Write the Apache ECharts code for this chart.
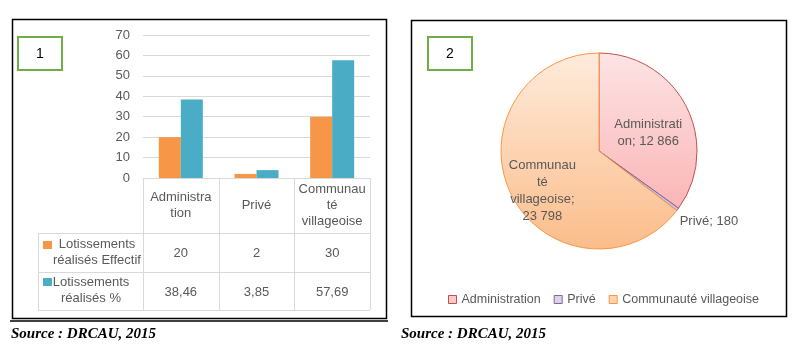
<!DOCTYPE html>
<html>
<head>
<meta charset="utf-8">
<script src="https://cdn.jsdelivr.net/npm/echarts@6/dist/echarts.min.js"></script>
<style>html,body{margin:0;padding:0;background:#fff}#c{width:799px;height:349px}</style>
</head>
<body>
<div id="c"></div>
<script>
// ---- data ----
const barCategories = ['Administra\ntion', 'Privé', 'Communau\nté\nvillageoise'];
const effectifName = 'Lotissements\nréalisés Effectif';
const pctName = 'Lotissements\nréalisés %';
const effectifValues = [20, 2, 30];
const pctValues = [38.46, 3.85, 57.69];
const pctLabels = ['38,46', '3,85', '57,69'];
const yTicks = [0, 10, 20, 30, 40, 50, 60, 70];
const pieNames = ['Administration', 'Privé', 'Communauté villageoise'];
const pieLabelNames = ['Administrati\non', 'Privé', 'Communau\nté\nvillageoise'];
const pieLabelSeps = ['; ', '; ', ';\n'];
const pieValues = [12866, 180, 23798];
const sourceText = 'Source : DRCAU, 2015';

// ---- layout ----
const FONT = 'Liberation Sans';
const TXT = '#595959';
const GRID = { left: 143, top: 35, right: 429, bottom: 171 };
const gx0 = GRID.left, gx1 = 799 - GRID.right, gy1 = 349 - GRID.bottom;
const colW = (gx1 - gx0) / barCategories.length;
const tabLeft = 38, rowH = 233, row1 = 272, row2 = 310;
const lineC = '#D9D9D9';

function fmt(v) { return String(v).replace(/\B(?=(\d{3})+(?!\d))/g, ' '); }

const g = [];
function line(x1, y1, x2, y2, c, w) {
  g.push({ type: 'line', shape: { x1, y1, x2, y2 }, style: { stroke: c || lineC, lineWidth: w || 1 }, z: 10 });
}
// outer frames
g.push({ type: 'rect', shape: { x: 12.5, y: 19.5, width: 374, height: 299 }, style: { fill: null, stroke: '#000', lineWidth: 1.5 } });
g.push({ type: 'rect', shape: { x: 411.5, y: 20.5, width: 375, height: 296 }, style: { fill: null, stroke: '#000', lineWidth: 1.5 } });
line(10, 321, 388, 321, '#000', 1.5);
// number boxes
g.push({ type: 'rect', shape: { x: 18, y: 37, width: 44, height: 33 }, style: { fill: '#fff', stroke: '#70AD47', lineWidth: 2 } });
g.push({ type: 'text', x: 40, y: 54, style: { text: '1', font: '14px ' + FONT, fill: '#000', align: 'center', verticalAlign: 'middle' } });
g.push({ type: 'rect', shape: { x: 428, y: 37, width: 44, height: 33 }, style: { fill: '#fff', stroke: '#70AD47', lineWidth: 2 } });
g.push({ type: 'text', x: 450, y: 54, style: { text: '2', font: '14px ' + FONT, fill: '#000', align: 'center', verticalAlign: 'middle' } });
// table lines
line(gx0, gy1 + 0.5, gx1, gy1 + 0.5);
[rowH, row1, row2].forEach(y => line(tabLeft, y + 0.5, gx1, y + 0.5));
line(tabLeft + 0.5, rowH, tabLeft + 0.5, row2);
for (let i = 0; i <= barCategories.length; i++) {
  const x = Math.round(gx0 + i * colW) + 0.5;
  line(x, gy1, x, row2);
}
// table row headers
g.push({ type: 'rect', shape: { x: 43, y: 241, width: 9, height: 8 }, style: { fill: '#F79646' } });
g.push({ type: 'text', x: 97, y: 252, style: { text: effectifName, font: '13px ' + FONT, fill: TXT, align: 'center', verticalAlign: 'middle', lineHeight: 16 } });
g.push({ type: 'rect', shape: { x: 43, y: 278, width: 9, height: 8 }, style: { fill: '#4BACC6' } });
g.push({ type: 'text', x: 91, y: 290, style: { text: pctName, font: '13px ' + FONT, fill: TXT, align: 'center', verticalAlign: 'middle', lineHeight: 16 } });
// table values
for (let i = 0; i < barCategories.length; i++) {
  const cx = gx0 + (i + 0.5) * colW;
  g.push({ type: 'text', x: cx, y: (rowH + row1) / 2 + 1, style: { text: String(effectifValues[i]), font: '13px ' + FONT, fill: TXT, align: 'center', verticalAlign: 'middle' } });
  g.push({ type: 'text', x: cx, y: (row1 + row2) / 2 + 1, style: { text: pctLabels[i], font: '13px ' + FONT, fill: TXT, align: 'center', verticalAlign: 'middle' } });
}
// sources
g.push({ type: 'text', x: 11, y: 334, style: { text: sourceText, font: 'italic bold 15px Liberation Serif', fill: '#000', verticalAlign: 'middle' } });
g.push({ type: 'text', x: 401, y: 334, style: { text: sourceText, font: 'italic bold 15px Liberation Serif', fill: '#000', verticalAlign: 'middle' } });

const PIE = { cx: 599, cy: 151, r: 98 };
function grad(c0, c1) {
  return { type: 'linear', x: 0, y: PIE.cy - PIE.r, x2: 0, y2: PIE.cy + PIE.r, global: true,
    colorStops: [{ offset: 0, color: c0 }, { offset: 1, color: c1 }] };
}
const pieStyles = [
  { color: grad('#FDE4E5', '#FAA9A9'), borderColor: '#C0504D' },
  { color: '#CCC1DA', borderColor: '#8064A2' },
  { color: grad('#FEEBDC', '#FBBD8A'), borderColor: '#F79646' }
];
const legendStyles = [
  { color: '#FBC8C8', borderColor: '#C0504D', borderWidth: 1 },
  { color: '#DCD3E8', borderColor: '#8064A2', borderWidth: 1 },
  { color: '#FDD3B0', borderColor: '#F79646', borderWidth: 1 }
];
const pieLabelPos = ['inside', 'outside', 'inside'];
const pieLabelShift = [[3, 6], [-3, 12], [-10, 17]];

const chart = echarts.init(document.getElementById('c'), null, { renderer: 'canvas' });
chart.setOption({
  animation: false,
  textStyle: { fontFamily: FONT },
  grid: { left: GRID.left, top: GRID.top, right: GRID.right, bottom: GRID.bottom },
  xAxis: {
    type: 'category', data: barCategories,
    axisLine: { show: true, lineStyle: { color: lineC } },
    axisTick: { show: false },
    axisLabel: { color: TXT, fontSize: 13, fontFamily: FONT, margin: 27, verticalAlign: 'middle', lineHeight: 16, interval: 0 }
  },
  yAxis: {
    type: 'value', min: yTicks[0], max: yTicks[yTicks.length - 1], interval: yTicks[1] - yTicks[0],
    axisLine: { show: false }, axisTick: { show: false },
    splitLine: { lineStyle: { color: lineC } },
    axisLabel: { color: TXT, fontSize: 13, fontFamily: FONT, margin: 13 }
  },
  legend: {
    left: 443, top: 288, icon: 'rect', itemWidth: 8, itemHeight: 8, itemGap: 13,
    textStyle: { color: TXT, fontSize: 12.5, fontFamily: FONT },
    data: pieNames.map((n, i) => ({ name: n, itemStyle: legendStyles[i] }))
  },
  series: [
    { type: 'bar', name: effectifName, data: effectifValues, barWidth: 22, barGap: '0%', itemStyle: { color: '#F79646' } },
    { type: 'bar', name: pctName, data: pctValues, barWidth: 22, barGap: '0%', itemStyle: { color: '#4BACC6' } },
    {
      type: 'pie', center: [PIE.cx, PIE.cy], radius: PIE.r, startAngle: 90, clockwise: true,
      avoidLabelOverlap: false,
      labelLine: { show: false, length: 0, length2: 0 },
      label: { color: TXT, fontSize: 13, fontFamily: FONT, lineHeight: 17, align: 'center' },
      labelLayout: function (p) {
        const s = pieLabelShift[p.dataIndex];
        return { dx: s[0], dy: s[1] };
      },
      data: pieNames.map((n, i) => ({
        name: n, value: pieValues[i],
        itemStyle: Object.assign({ borderWidth: 1 }, pieStyles[i]),
        label: { position: pieLabelPos[i], formatter: pieLabelNames[i] + pieLabelSeps[i] + fmt(pieValues[i]) }
      }))
    }
  ],
  graphic: g
});
</script>
</body>
</html>
